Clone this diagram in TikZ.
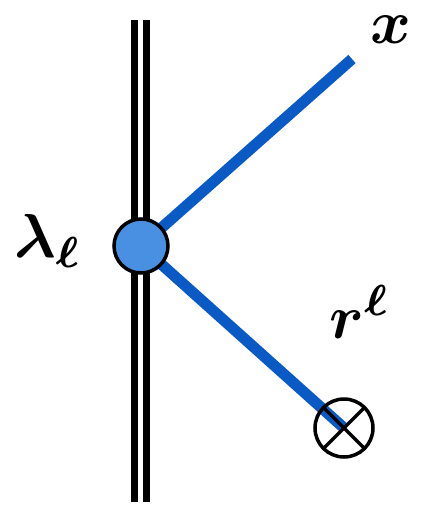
\documentclass[tikz,border=0pt]{standalone}
\usepackage{graphicx}
\definecolor{lineblue}{HTML}{0A5AC6}
\definecolor{fillblue}{HTML}{4A90E2}
\tikzset{
  wire/.style={line width=7.5pt, black},
  leg/.style={line width=11pt, lineblue},
  vertex/.style={circle, draw=black, line width=3.5pt, fill=fillblue, minimum size=54pt, inner sep=0pt},
  lab/.style={inner sep=0pt}
}
\newcommand{\biglab}[1]{\scalebox{6.2}{\boldmath$#1$}}
\begin{document}
\begin{tikzpicture}[x=1pt,y=-1pt]
\useasboundingbox (0,0) rectangle (436,515);
\coordinate (lt) at (134.7,20);
\coordinate (lb) at (134.7,502);
\coordinate (rt) at (146.7,20);
\coordinate (rb) at (146.7,502);
\draw[wire] (lt) -- (lb);
\draw[wire] (rt) -- (rb);
\coordinate (v) at (141,246);
\coordinate (xe) at (352,59);
\node[circle, minimum size=60pt, inner sep=0pt] (p) at (344,428) {};
\draw[leg] (v) -- (xe);
\draw[leg] (v) -- (p.center);
\node[vertex] (vn) at (v) {};
\draw[line width=3.5pt] (p.center) circle (29pt);
\draw[line width=3.5pt] (p.center) ++(-20.5,-20.5) -- ++(41,41);
\draw[line width=3.5pt] (p.center) ++(20.5,-20.5) -- ++(-41,41);
\node[lab] (xl) at (391,30) {\biglab{x}};
\node[lab] (ll) at (48,241) {\biglab{\lambda_\ell}};
\node[lab] (rl) at (360,312) {\biglab{r^\ell}};
\end{tikzpicture}
\end{document}
